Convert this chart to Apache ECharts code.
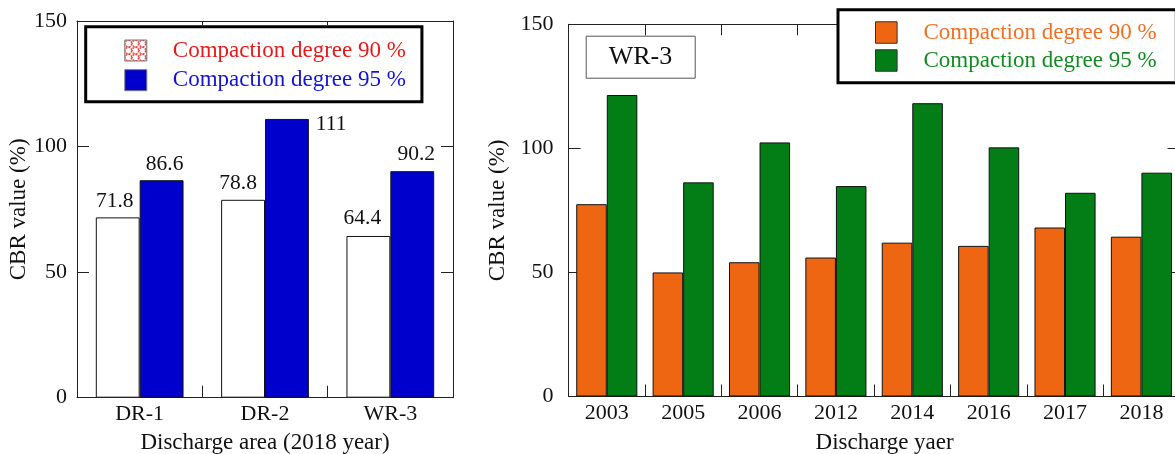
<!DOCTYPE html>
<html>
<head>
<meta charset="utf-8">
<script src="https://cdn.jsdelivr.net/npm/echarts@6/dist/echarts.min.js"></script>
<style>
  html, body { margin: 0; padding: 0; background: #fff; }
  #chart { width: 1175px; height: 454px; }
</style>
</head>
<body>
<div id="chart"></div>
<script>
// CBR values by discharge area (2018) and by discharge year for WR-3
const seriesNames = ['Compaction degree 90 %', 'Compaction degree 95 %'];

const areaCategories = ['DR-1', 'DR-2', 'WR-3'];
const area90 = [71.8, 78.8, 64.4];
const area95 = [86.6, 111, 90.2];

const yearCategories = ['2003', '2005', '2006', '2012', '2014', '2016', '2017', '2018'];
const year90 = [77.5, 50, 54.1, 56, 62, 60.7, 68.1, 64.4];
const year95 = [121.5, 86.3, 102.4, 84.8, 118.2, 100.4, 82.1, 90.2];

const yMin = 0, yMax = 150, yStep = 50;

const FONT = '"Liberation Serif", "DejaVu Serif", serif';
const AXIS_COLOR = '#222';
const TICK_FONT = 22;
const NAME_FONT = 23;

// small red lattice tile used for the 90 % legend swatch
function latticeTile() {
  const c = document.createElement('canvas');
  c.width = c.height = 7;
  const g = c.getContext('2d');
  g.fillStyle = '#fff';
  g.fillRect(0, 0, 7, 7);
  g.strokeStyle = '#e62222';
  g.lineWidth = 1.2;
  g.setLineDash([2, 1]);
  g.beginPath();
  g.arc(3.5, 3.5, 3.3, 0, Math.PI * 2);
  g.stroke();
  return c;
}

// label placement tweaks for the value labels on the left chart
const label90Shift = [[-3, 0], [-5, 0], [-6, -2]];
const label95Shift = [[3, 0], [0, 0], [4, -1]];

function catAxis(gridIndex, data, position, opts) {
  return Object.assign({
    type: 'category', gridIndex, data, position,
    boundaryGap: true,
    axisLine: { show: true, onZero: false, lineStyle: { color: AXIS_COLOR, width: 1 } },
    axisTick: { show: true, inside: true, length: 12, alignWithLabel: false, lineStyle: { color: AXIS_COLOR } },
    axisLabel: { show: position === 'bottom', color: '#111', fontSize: TICK_FONT, fontFamily: FONT, margin: 6 },
    splitLine: { show: false }
  }, opts || {});
}

function valAxis(gridIndex, position, opts) {
  return Object.assign({
    type: 'value', gridIndex, position,
    min: yMin, max: yMax, interval: yStep,
    axisLine: { show: true, lineStyle: { color: AXIS_COLOR, width: 1 } },
    axisTick: { show: true, inside: true, length: 12, lineStyle: { color: AXIS_COLOR } },
    axisLabel: { show: position === 'left', color: '#111', fontSize: TICK_FONT, fontFamily: FONT, margin: 10 },
    splitLine: { show: false }
  }, opts || {});
}

const nameStyle = { color: '#111', fontSize: NAME_FONT, fontFamily: FONT };

const chart = echarts.init(document.getElementById('chart'), null, { renderer: 'canvas' });

const option = {
  animation: false,
  backgroundColor: '#fff',
  textStyle: { fontFamily: FONT },
  title: {
    text: 'WR-3',
    left: 585.7, top: 35.7,
    borderColor: '#555', borderWidth: 1,
    padding: [8, 23, 8, 23],
    textStyle: { fontSize: 26, fontWeight: 'normal', fontFamily: FONT, color: '#111', lineHeight: 27 }
  },
  grid: [
    { left: 77, top: 21, width: 376, bottom: 454 - 397.7, containLabel: false, outerBoundsMode: 'none' },
    { left: 568.6, top: 24.3, width: 611, bottom: 454 - 396.5, containLabel: false, outerBoundsMode: 'none' }
  ],
  legend: [
    {
      orient: 'vertical', left: 85.7, top: 26.7, z: 10,
      icon: 'rect', itemWidth: 22, itemHeight: 21, itemGap: 6.7,
      padding: [12.3, 16, 10, 38.6],
      backgroundColor: '#fff', borderColor: '#000', borderWidth: 3,
      selectedMode: false,
      itemStyle: { borderColor: '#777', borderWidth: 1 },
      textStyle: { fontSize: NAME_FONT, fontFamily: FONT, width: 232, lineHeight: 21, padding: [0, 0, 0, 21] },
      data: [
        { name: seriesNames[0], itemStyle: { color: { image: latticeTile(), repeat: 'repeat' } }, textStyle: { color: '#e41b1b' } },
        { name: seriesNames[1], itemStyle: { color: '#0000cc' }, textStyle: { color: '#1414d2' } }
      ]
    },
    {
      orient: 'vertical', left: 838, top: 9.7, z: 10,
      icon: 'rect', itemWidth: 21.6, itemHeight: 21.5, itemGap: 5,
      padding: [11.3, 19.7, 10.7, 37],
      backgroundColor: '#fff', borderColor: '#000', borderWidth: 3,
      selectedMode: false,
      itemStyle: { borderColor: '#333', borderWidth: 1 },
      textStyle: { fontSize: NAME_FONT, fontFamily: FONT, width: 228, lineHeight: 21, padding: [0, 0, 0, 21.4] },
      data: [
        { name: seriesNames[0], itemStyle: { color: '#ee6612' }, textStyle: { color: '#f07024' } },
        { name: seriesNames[1], itemStyle: { color: '#037d16' }, textStyle: { color: '#138b22' } }
      ]
    }
  ],
  xAxis: [
    catAxis(0, areaCategories, 'bottom', {
      name: 'Discharge area (2018 year)', nameLocation: 'middle', nameGap: 34, nameTextStyle: nameStyle
    }),
    catAxis(0, areaCategories, 'top', { axisTick: { show: true, inside: true, length: 4, lineStyle: { color: AXIS_COLOR } } }),
    catAxis(1, yearCategories, 'bottom', {
      name: 'Discharge yaer', nameLocation: 'middle', nameGap: 35,
      nameTextStyle: Object.assign({}, nameStyle, { padding: [0, 0, 0, 21] })
    }),
    catAxis(1, yearCategories, 'top', { axisTick: { show: true, inside: true, length: 11, lineStyle: { color: AXIS_COLOR } } })
  ],
  yAxis: [
    valAxis(0, 'left', { name: 'CBR value (%)', nameLocation: 'middle', nameGap: 43, nameTextStyle: nameStyle }),
    valAxis(0, 'right'),
    valAxis(1, 'left', {
      name: 'CBR value (%)', nameLocation: 'middle', nameGap: 59, nameTextStyle: nameStyle,
      axisLabel: { show: true, color: '#111', fontSize: TICK_FONT, fontFamily: FONT, margin: 15 }
    }),
    valAxis(1, 'right')
  ],
  series: [
    {
      name: seriesNames[0], type: 'bar', xAxisIndex: 0, yAxisIndex: 0,
      barGap: 0, barCategoryGap: '30%',
      itemStyle: { color: '#fff', borderColor: '#111', borderWidth: 1 },
      label: { show: true, position: 'top', distance: 5, color: '#111', fontSize: 21.5, fontFamily: FONT },
      data: area90.map((v, i) => ({ value: v, label: { offset: label90Shift[i] } }))
    },
    {
      name: seriesNames[1], type: 'bar', xAxisIndex: 0, yAxisIndex: 0,
      barGap: 0, barCategoryGap: '30%',
      itemStyle: { color: '#0000cc', borderColor: '#111', borderWidth: 1 },
      label: { show: true, position: 'top', distance: 5, color: '#111', fontSize: 21.5, fontFamily: FONT },
      data: area95.map((v, i) => (i === 1
        ? { value: v, label: { position: ['100%', 0], verticalAlign: 'middle', align: 'left', offset: [7, 5] } }
        : { value: v, label: { offset: label95Shift[i] } }))
    },
    {
      name: seriesNames[0], type: 'bar', xAxisIndex: 2, yAxisIndex: 2,
      barGap: 0, barCategoryGap: '20%',
      itemStyle: { color: '#ee6612', borderColor: '#111', borderWidth: 1 },
      data: year90
    },
    {
      name: seriesNames[1], type: 'bar', xAxisIndex: 2, yAxisIndex: 2,
      barGap: 0, barCategoryGap: '20%',
      itemStyle: { color: '#037d16', borderColor: '#111', borderWidth: 1 },
      data: year95
    }
  ]
};

chart.setOption(option);
</script>
</body>
</html>
